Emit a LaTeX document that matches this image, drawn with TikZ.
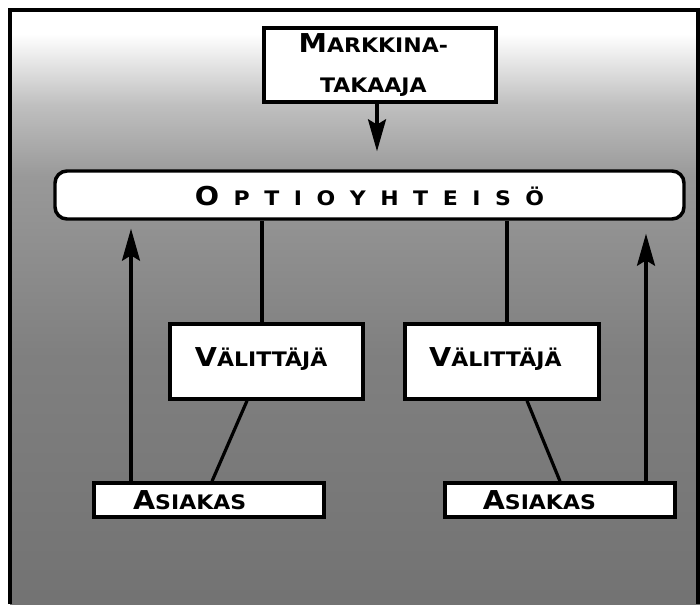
\documentclass[tikz,border=0pt]{standalone}
\usepackage{fontspec}
\usetikzlibrary{arrows.meta}
% wide, even-stroked capitals for the engraved small-caps look
\newfontfamily\plate[FakeStretch=1.1]{DejaVu Sans Bold}
\newcommand\capbig[1]{{\fontsize{19.5pt}{30pt}\selectfont #1}}
\newcommand\capsml[1]{{\fontsize{15pt}{30pt}\selectfont #1}}
\newcommand\gap{\kern10.9pt}
% background tone: white at the top, darkening towards the bottom
\pgfdeclareverticalshading{bgtone}{100bp}{color(0bp)=(black!55); color(25bp)=(black!55); color(46bp)=(black!50); color(61bp)=(black!40); color(67bp)=(black!25); color(73bp)=(white); color(100bp)=(white)}

\begin{document}
\begin{tikzpicture}[x=0.75pt,y=-0.75pt,
  box/.style={draw=black, line width=2.6pt, fill=white, inner sep=0pt,
              font=\plate\fontsize{15pt}{30pt}\selectfont},
  link/.style={line width=2.4pt},
  arrow/.style={link, -{Stealth[length=24pt,width=13.5pt,inset=4pt]}}]

\useasboundingbox (0,0) rectangle (700,604);
\shade[shading=bgtone] (10,10) rectangle (700,604);
\draw[line width=2.5pt] (10,604) -- (10,10) -- (698,10) -- (698,604);

% boxes
\node[box, minimum width=174pt, minimum height=55.5pt, align=center] (mk) at (380,65)
  {\capbig{M}\capsml{ARKKINA-}\hbox to 10pt{}\\\capsml{TAKAAJA}\hbox to 10pt{}};
\node[box, rounded corners=9pt, minimum width=471.75pt, minimum height=36pt,
      text height=15pt, text depth=0pt] (op) at (369.5,195)
  {\capbig{O}\gap\capsml{P\gap T\gap I\gap O\gap Y\gap H\gap T\gap E\gap I\gap S\gap Ö}};
\node[box, minimum width=144.75pt, minimum height=56.25pt,
      text height=10pt, text depth=3.25pt] (v1) at (266.5,361.5)
  {\capbig{V}\capsml{ÄLITTÄJÄ}\hbox to 8pt{}};
\node[box, minimum width=145.5pt, minimum height=56.25pt,
      text height=10pt, text depth=3.25pt] (v2) at (502,361.5)
  {\capbig{V}\capsml{ÄLITTÄJÄ}\hbox to 10pt{}};
\node[box, minimum width=172.5pt, minimum height=25.5pt,
      text height=13.5pt, text depth=0pt] (a1) at (209,500)
  {\capbig{A}\capsml{SIAKAS}\hbox to 29pt{}};
\node[box, minimum width=172.5pt, minimum height=25.5pt,
      text height=13.5pt, text depth=0pt] (a2) at (560,500)
  {\capbig{A}\capsml{SIAKAS}\hbox to 31pt{}};

% connectors
\draw[arrow, shorten >=13.5pt] ([xshift=-2.25pt]mk.south) -- ([xshift=-2.25pt]mk.south |- op.north);
\draw[link] ([xshift=-3.4pt]v1.north) -- ([xshift=-3.4pt]v1.north |- op.south);
\draw[link] ([xshift=3.75pt]v2.north) -- ([xshift=3.75pt]v2.north |- op.south);
\draw[link] ([xshift=-14.6pt]v1.south) -- ([xshift=2.25pt]a1.north);
\draw[link] ([xshift=18.75pt]v2.south) -- (a2.north);
\draw[arrow, shorten >=6pt] ([xshift=-58.5pt]a1.north) -- ([xshift=-58.5pt]a1.north |- op.south);
\draw[arrow, shorten >=9.75pt] ([xshift=64.5pt]a2.north) -- ([xshift=64.5pt]a2.north |- op.south);
\end{tikzpicture}
\end{document}
